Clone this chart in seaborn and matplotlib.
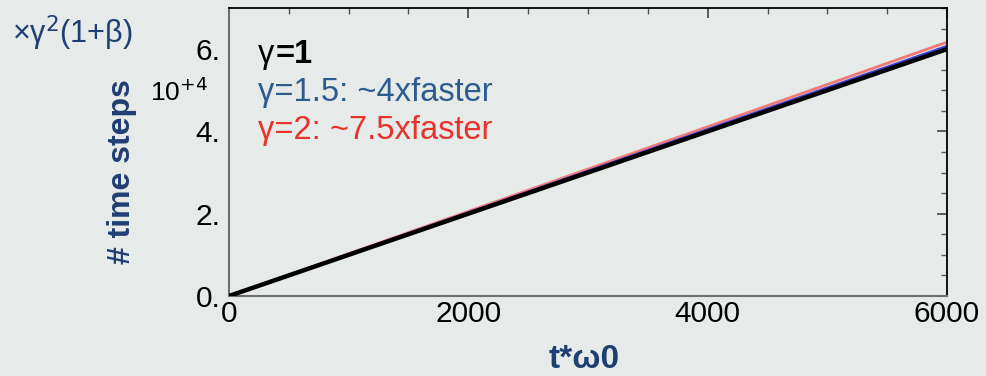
import matplotlib
matplotlib.use("Agg")
import matplotlib.pyplot as plt
import seaborn as sns
import pandas as pd
from matplotlib.ticker import MultipleLocator, FixedLocator

# Data (y in units of 10^4 time steps)
t = [0, 6000]
steps_g1 = [0.0, 6.0]
steps_g15 = [0.0, 6.07]
steps_g2 = [0.0, 6.17]
series_names = ["γ=1", "γ=1.5: ~4xfaster", "γ=2: ~7.5xfaster"]
xticks = [0, 2000, 4000, 6000]
yticks = [0, 2, 4, 6]
ytick_labels = ["0.", "2.", "4.", "6."]

sns.set_theme(style="white")
plt.rcParams['font.family'] = ['Liberation Sans', 'DejaVu Sans']

bg = "#e6eae9"
navy = "#1f3f73"
fig = plt.figure(figsize=(9.87, 3.76), dpi=100, facecolor=bg)
ax = fig.add_axes([0.232, 0.2128, 0.7275, 0.766])
ax.set_facecolor(bg)

df = pd.DataFrame({
    "t": t * 3,
    "steps": steps_g1 + steps_g15 + steps_g2,
    "series": [series_names[0]] * 2 + [series_names[1]] * 2 + [series_names[2]] * 2,
})
styles = {series_names[0]: ("black", 3.2, 3),
          series_names[1]: ("#3a3fd0", 2.0, 2),
          series_names[2]: ("#f07a78", 2.0, 1)}
for name in series_names:
    c, lw, z = styles[name]
    sns.lineplot(data=df[df.series == name], x="t", y="steps", color=c, lw=lw,
                 ax=ax, zorder=z, legend=False)

ax.set_xlim(0, 6000)
ax.set_ylim(0, 7.0)
ax.xaxis.set_major_locator(FixedLocator(xticks))
ax.xaxis.set_minor_locator(MultipleLocator(500))
ax.yaxis.set_major_locator(FixedLocator(yticks))
ax.yaxis.set_minor_locator(MultipleLocator(0.5))
ax.set_yticklabels(ytick_labels)
ax.tick_params(axis="both", which="major", direction="in", length=7, width=1.2,
               labelsize=21.5, top=True, right=True, colors="#444444", labelcolor="black")
ax.tick_params(axis="x", which="major", pad=3)
ax.tick_params(axis="y", which="major", pad=6)
ax.tick_params(axis="both", which="minor", direction="in", length=4, width=1,
               top=True, right=True, colors="#555555")
for s in ["left", "bottom"]:
    ax.spines[s].set_color("#6f6f6f")
    ax.spines[s].set_linewidth(1.5)
for s in ["top", "right"]:
    ax.spines[s].set_color("black")
    ax.spines[s].set_linewidth(1.3)

ax.set_xlabel("")
ax.set_ylabel("")

# legend-like text
t1 = ax.text(0.04, 0.84, "γ", transform=ax.transAxes, fontsize=23.5, color="black",
             va="center", ha="left")
ax.annotate("=1", xy=(1, 0.5), xycoords=t1, xytext=(1, 0), textcoords="offset points",
            fontsize=23.5, color="black", va="center", ha="left", fontweight="bold")
ax.text(0.04, 0.705, series_names[1], transform=ax.transAxes, fontsize=23.5,
        color="#2c5b8e", va="center", ha="left")
ax.text(0.04, 0.573, series_names[2], transform=ax.transAxes, fontsize=23.5,
        color="#e8322a", va="center", ha="left")

fig.text(0.592, 0.043, "t*ω0", fontsize=24, color=navy, fontweight="bold",
         ha="center", va="center")
fig.text(0.124, 0.545, "# time steps", fontsize=23, color=navy, fontweight="bold",
         ha="center", va="center", rotation=90)
fig.text(0.21, 0.755, r"10$^{+4}$", fontsize=19, color="black", ha="right", va="center")
fig.text(0.012, 0.912, r"×γ$^{2}$(1+β)", fontsize=22, color=navy, ha="left",
         va="center")

fig.savefig("out.png", dpi=100, facecolor=bg)
